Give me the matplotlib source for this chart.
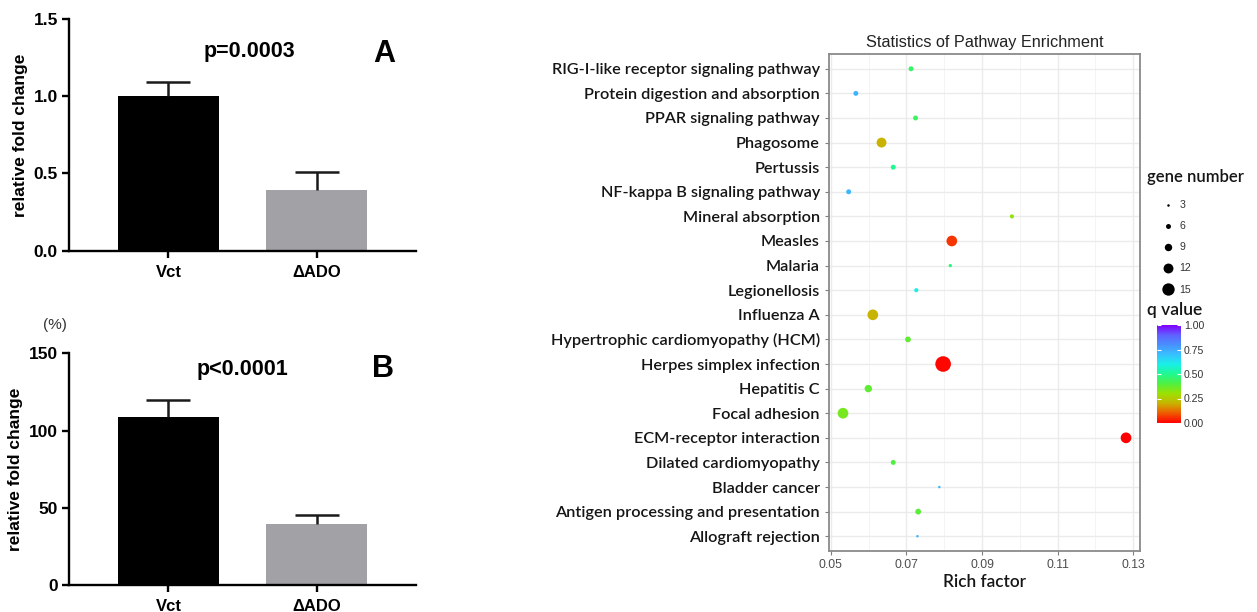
import numpy as np
import matplotlib
matplotlib.use("Agg")
import matplotlib.pyplot as plt
from matplotlib.colors import LinearSegmentedColormap, Normalize
from matplotlib.cm import ScalarMappable
from matplotlib.lines import Line2D

W, H = 1257, 612

# panel A / B data
groups = ["Vct", "\u0394ADO"]
fold_a = [1.00, 0.39]
err_a = [0.095, 0.12]
fold_b = [109.0, 39.5]
err_b = [10.5, 5.5]

# panel C data (top to bottom)
pathways = [
    "RIG-I-like receptor signaling pathway",
    "Protein digestion and absorption",
    "PPAR signaling pathway",
    "Phagosome",
    "Pertussis",
    "NF-kappa B signaling pathway",
    "Mineral absorption",
    "Measles",
    "Malaria",
    "Legionellosis",
    "Influenza A",
    "Hypertrophic cardiomyopathy (HCM)",
    "Herpes simplex infection",
    "Hepatitis C",
    "Focal adhesion",
    "ECM-receptor interaction",
    "Dilated cardiomyopathy",
    "Bladder cancer",
    "Antigen processing and presentation",
    "Allograft rejection",
]
rich_factor = [0.0712, 0.0566, 0.0724, 0.0634, 0.0665, 0.0547, 0.0979, 0.0820,
               0.0816, 0.0726, 0.0611, 0.0704, 0.0797, 0.0599, 0.0532, 0.1281,
               0.0665, 0.0787, 0.0731, 0.0729]
gene_number = [6, 6, 6, 12, 6, 6, 5, 13, 4, 5, 13, 7, 19, 9, 13, 13, 6, 3, 7, 3]
q_value = [0.45, 0.72, 0.44, 0.20, 0.50, 0.72, 0.32, 0.06, 0.48, 0.60, 0.20,
           0.38, 0.01, 0.38, 0.35, 0.00, 0.40, 0.72, 0.39, 0.72]
size_legend = [3, 6, 9, 12, 15]


def px(x, y):
    return x / W, 1 - y / H


def rect(left, top, right, bottom):
    return [left / W, 1 - bottom / H, (right - left) / W, (bottom - top) / H]


def dot_pt(g):
    # marker diameter in points from gene number
    d_px = 2.5 + 0.82 * (np.asarray(g) - 3)
    return d_px * 72 / 100


qcmap = LinearSegmentedColormap.from_list("qv", [
    (0.00, "#FF0000"), (0.10, "#F05A00"), (0.20, "#C8B400"), (0.30, "#9CE000"),
    (0.40, "#50F040"), (0.50, "#20F890"), (0.60, "#18F0E8"), (0.70, "#38C0FF"),
    (0.80, "#4890FF"), (0.90, "#6060FF"), (1.00, "#8000FF")])

fig = plt.figure(figsize=(W / 100, H / 100), dpi=100)
bold = dict(family="Liberation Sans", weight="bold")


def bar_panel(box, vals, errs, ylim, yticks, fmt, ptext, ppos, letter, lpos):
    ax = fig.add_axes(box)
    x = np.arange(len(groups))
    ax.bar(x, vals, width=0.68, color=["#000000", "#A2A2A6"], zorder=2)
    eb = ax.errorbar(x, vals, yerr=[np.zeros(len(errs)), errs], fmt="none",
                     ecolor="#1a1a1a", elinewidth=1.8, capsize=16, capthick=1.8,
                     zorder=3)
    eb[1][0].set_visible(False)  # only the upper cap
    ax.set_xlim(-0.672, 1.672)
    ax.set_ylim(*ylim)
    ax.set_yticks(yticks)
    ax.set_yticklabels([fmt.format(t) for t in yticks], fontsize=12.5, **bold)
    ax.set_xticks(x)
    ax.set_xticklabels(groups, fontsize=12, **bold)
    for s in ["top", "right"]:
        ax.spines[s].set_visible(False)
    for s in ["left", "bottom"]:
        ax.spines[s].set_linewidth(1.7)
    ax.tick_params(width=1.7, length=5, pad=3)
    ax.tick_params(axis="x", pad=5)
    ax.set_ylabel("relative fold change", fontsize=12.5, labelpad=4, **bold)
    fig.text(*px(*ppos), ptext, ha="center", va="center", fontsize=15.5, **bold)
    fig.text(*px(*lpos), letter, ha="center", va="center", fontsize=22, **bold)
    return ax


bar_panel(rect(69, 19, 416, 250.7), fold_a, err_a, (0, 1.5), [0, 0.5, 1.0, 1.5],
          "{:.1f}", "p=0.0003", (249, 51), "A", (384, 54))
bar_panel(rect(69, 353.3, 416, 585), fold_b, err_b, (0, 150), [0, 50, 100, 150],
          "{:.0f}", "p<0.0001", (242, 369), "B", (383, 369))
fig.text(*px(55, 325), "(%)", ha="center", va="center", fontsize=11,
         family="Liberation Sans", color="#333333")

# panel C
axc = fig.add_axes(rect(829, 54, 1140, 551))
n = len(pathways)
ypos = n - 1 - np.arange(n)
axc.set_axisbelow(True)
axc.scatter(rich_factor, ypos, s=dot_pt(gene_number) ** 2, c=q_value, cmap=qcmap,
            vmin=0, vmax=1, edgecolors="none", zorder=3)
axc.set_xlim(0.0495, 0.1318)
axc.set_ylim(-0.6, n - 0.4)
axc.set_xticks([0.05, 0.07, 0.09, 0.11, 0.13])
axc.set_xticklabels(["0.05", "0.07", "0.09", "0.11", "0.13"])
axc.set_xticks([0.06, 0.08, 0.10, 0.12], minor=True)
axc.set_yticks(ypos)
axc.set_yticklabels(pathways, family="Lato", fontsize=11.7, weight="semibold",
                    color="#151515")
axc.grid(True, which="major", color="#EBEBEB", lw=1.0)
axc.grid(True, which="minor", axis="x", color="#F4F4F4", lw=0.7)
axc.tick_params(axis="x", which="major", labelsize=8.8, labelcolor="#4D4D4D",
                color="#7F7F7F", length=3, pad=3)
axc.tick_params(axis="x", which="minor", length=0)
axc.tick_params(axis="y", color="#7F7F7F", length=3, pad=3.5)
for lab in axc.get_xticklabels():
    lab.set_family("Liberation Sans")
for s in axc.spines.values():
    s.set_color("#8A8A8A")
    s.set_linewidth(1.3)
axc.set_title("Statistics of Pathway Enrichment", family="Liberation Sans",
              fontsize=11.7, color="#222222", pad=5)
axc.set_xlabel("Rich factor", family="Lato", fontsize=12.4, weight="semibold",
               color="#151515", labelpad=2)

# size legend
fig.text(*px(1147, 177), "gene number", family="Lato", fontsize=12, weight="semibold",
         color="#151515", ha="left", va="center")
handles = [Line2D([], [], ls="none", marker="o", color="black",
                  markersize=float(dot_pt(g)), markeredgewidth=0) for g in size_legend]
leg = fig.legend(handles, [str(g) for g in size_legend],
                 loc="upper left", bbox_to_anchor=px(1153, 196), frameon=False,
                 labelspacing=1.05, handletextpad=0.1, handlelength=2.0,
                 borderaxespad=0, prop=dict(family="Liberation Sans", size=7.6))
for t in leg.get_texts():
    t.set_color("#333333")

# q value colorbar
fig.text(*px(1147, 310), "q value", family="Lato", fontsize=12.5, weight="semibold",
         color="#151515", ha="left", va="center")
cax = fig.add_axes(rect(1157, 325, 1181, 423))
cb = fig.colorbar(ScalarMappable(norm=Normalize(0, 1), cmap=qcmap), cax=cax,
                  ticks=[0, 0.25, 0.5, 0.75, 1.0])
cb.outline.set_visible(False)
cb.ax.set_yticklabels(["0.00", "0.25", "0.50", "0.75", "1.00"])
cb.ax.tick_params(labelsize=7.6, labelcolor="#333333", color="white", length=3,
                  direction="in", left=True, pad=2)
for lab in cb.ax.get_yticklabels():
    lab.set_family("Liberation Sans")

fig.savefig("out.png", dpi=100)
